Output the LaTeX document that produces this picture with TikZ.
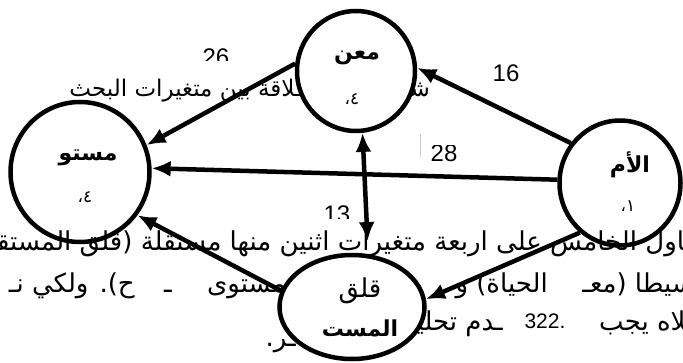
\documentclass[tikz,border=0pt]{standalone}
\usepackage{fontspec}
\setmainfont{Liberation Sans}
\newfontfamily\arabicfont[Script=Arabic]{DejaVu Sans}
\TeXXeTstate=1
\usetikzlibrary{arrows.meta,shapes.geometric}
\begin{document}
\begin{tikzpicture}[x=1pt,y=-1pt,
  vnode/.style={ellipse, draw, line width=4.5pt, fill=white, inner sep=0pt},
  conn/.style={line width=4.5pt, -{Latex[length=19pt,width=16pt]}},
  biconn/.style={line width=4.5pt, {Latex[length=19pt,width=16pt]}-{Latex[length=19pt,width=16pt]}},
  body/.style={inner sep=0pt, anchor=base east, font=\arabicfont\fontsize{26}{30}\selectfont},
  captxt/.style={inner sep=0pt, anchor=base east, font=\arabicfont\fontsize{23}{27}\selectfont},
  lbl/.style={inner sep=0pt, font=\arabicfont\bfseries\fontsize{22}{24}\selectfont},
  sublbl/.style={inner sep=0pt, font=\arabicfont\fontsize{17}{19}\selectfont},
  num/.style={inner sep=0pt, font=\fontsize{24}{26}\selectfont}
]
\useasboundingbox (0,0) rectangle (683,363);
\clip (0,0) rectangle (683,363);

% background text (partly hidden behind the circles)
\node[captxt] (capA) at (430,97) {\beginR شـ\endR};
\node[captxt] (capB) at (302,97) {\beginR ـلاقة بين متغيرات البحث\endR};
\node[body] (r2a) at (694,293) {\beginR سيطا (معـ\endR};
\node[body] (r2b) at (548,293) {\beginR الحياة) و\endR};
\node[body] (r2c) at (286,293) {\beginR مستوى\endR};
\node[body] (r2d) at (172,293) {\beginR ـ\endR};
\node[body] (r2e) at (135,293) {\beginR ح). ولكي نـ\endR};
\node[body] (r3a) at (694,331) {\beginR ـلاه يجب\endR};
\node[num, anchor=base, font=\fontsize{21}{23}\selectfont] (r3n) at (545,329) {322.};
\node[body] (r3b) at (503,331) {\beginR ـدم تحليـ\endR};
\node[body] (r3c) at (296,347) {\beginR ـر.\endR};

% numbers
\begin{scope}
\clip (150,0) rectangle (300,61);
\node[num] (n26) at (216,57) {26};
\end{scope}
\node[num] (n16) at (506,73) {16};
\begin{scope}
\clip (400,146) rectangle (500,200);
\node[num] (n28) at (444,153) {28};
\end{scope}
\begin{scope}
\clip (300,180) rectangle (380,219);
\node[num] (n13) at (337,214) {13};
\end{scope}
\draw[gray!40, line width=0.6pt] (420,134) -- (420,157);

% circles
\node[vnode, minimum width=118pt, minimum height=120pt] (mean) at (356,71) {};
\node[vnode, minimum width=139pt, minimum height=140pt] (level) at (80,172) {};
\node[vnode, minimum width=121pt, minimum height=125pt] (hope) at (620,183) {};
\node[vnode, minimum width=145pt, minimum height=104pt] (anx) at (352,307) {};

\node[lbl] (meanA) at (357,58) {\beginR معن\endR};
\node[sublbl] (meanB) at (352,99) {\beginR ٤،\endR};
\node[lbl] (levelA) at (88,158) {\beginR مستو\endR};
\node[sublbl] (levelB) at (85,197) {\beginR ٤،\endR};
\node[lbl] (hopeA) at (630,165) {\beginR الأم\endR};
\node[sublbl] (hopeB) at (628,206) {\beginR ١،\endR};
\node[lbl, font=\arabicfont\fontsize{26}{28}\selectfont] (anxA) at (360,291) {\beginR قلق\endR};
\node[lbl] (anxB) at (360,328) {\beginR المست\endR};

% text line drawn over the circles
\node[body] (r1) at (700,251) {\beginR تناول الخامس على اربعة متغيرات اثنين منها مستقلة (قلق المستقبل\endR};

% connectors
\draw[conn] (mean.173) -- (level.22);
\draw[conn] (hope.141) -- (mean.3);
\draw[conn] (hope.177) -- (level.3);
\draw[biconn, shorten >=13pt] (mean.-84) -- (anx.73.5);
\draw[conn] (anx.167) -- (level.-37);
\draw[conn] (hope.231.5) -- (anx.6.6);
\end{tikzpicture}
\end{document}
